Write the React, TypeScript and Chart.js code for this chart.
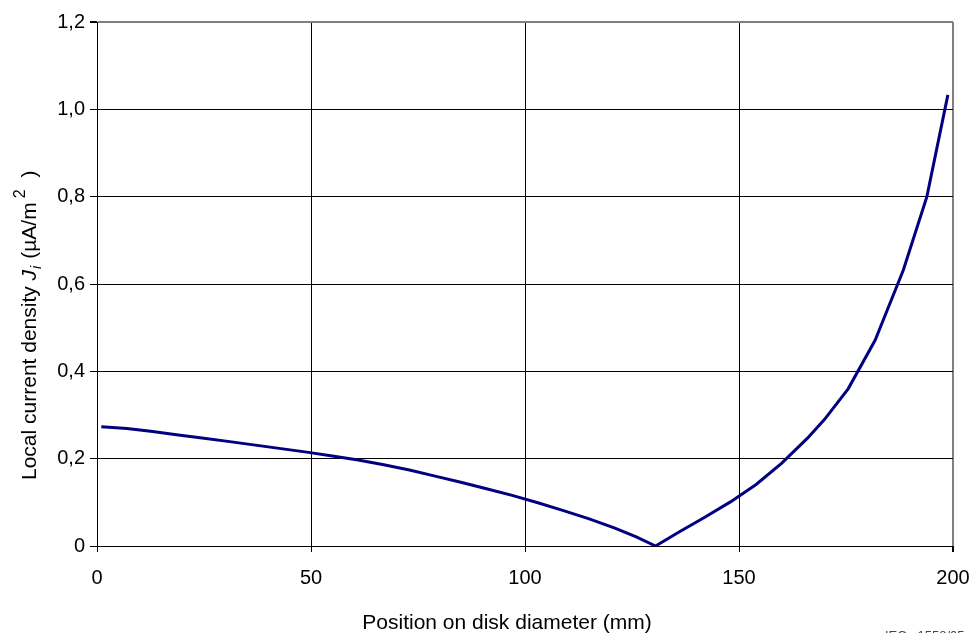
import React, { useEffect, useRef } from "react";
import { Chart, registerables } from "chart.js";

Chart.register(...registerables);

// Position on disk diameter (mm)
const positionMm = [
  1, 7, 13, 19, 25, 31, 37, 43, 49, 55, 61, 67, 73, 79, 85, 91, 97, 103, 109,
  115, 121, 126, 130.5, 136, 142, 148, 154, 160, 166, 170, 175.5, 181.8, 188.4,
  193.9, 198.8,
];
// Local current density J_i (µA/m²)
const currentDensity = [
  0.273, 0.269, 0.262, 0.254, 0.247, 0.239, 0.231, 0.223, 0.215, 0.206, 0.197,
  0.186, 0.174, 0.16, 0.146, 0.131, 0.116, 0.099, 0.081, 0.062, 0.041, 0.021,
  0, 0.032, 0.066, 0.101, 0.141, 0.19, 0.247, 0.29, 0.36, 0.471, 0.632, 0.8,
  1.033,
];
const xTicks = [0, 50, 100, 150, 200];
const yTicks = [0, 0.2, 0.4, 0.6, 0.8, 1.0, 1.2];

const xTitle = "Position on disk diameter (mm)";
const sourceNote = "IEC   1558/05";

const FONT = "'Liberation Sans', Arial, Helvetica, sans-serif";

const textPlugin = {
  id: "customText",
  afterDraw(chart: any) {
    const ctx = chart.ctx as CanvasRenderingContext2D;
    ctx.save();
    ctx.fillStyle = "#000";
    // X title
    ctx.font = `21px ${FONT}`;
    ctx.textAlign = "center";
    ctx.textBaseline = "alphabetic";
    ctx.fillText(xTitle, 507, 629);
    // Source note (partially cut off at bottom)
    ctx.textAlign = "left";
    ctx.textBaseline = "top";
    ctx.font = `13px ${FONT}`;
    ctx.fillStyle = "#444";
    ctx.fillText(sourceNote, 885, 630);
    ctx.restore();

    // Y title (rotated, with italic J, subscript i, superscript 2)
    ctx.save();
    ctx.fillStyle = "#000";
    ctx.translate(36, 480);
    ctx.rotate(-Math.PI / 2);
    ctx.textAlign = "left";
    ctx.textBaseline = "alphabetic";
    const parts: { t: string; font: string; dy: number; gap: number }[] = [
      { t: "Local current density ", font: `21px ${FONT}`, dy: 0, gap: 0 },
      { t: "J", font: `italic 21px ${FONT}`, dy: 0, gap: 1 },
      { t: "i", font: `italic 14px ${FONT}`, dy: 5, gap: 7 },
      { t: "(µA/m", font: `21px ${FONT}`, dy: 0, gap: 4 },
      { t: "2", font: `16px ${FONT}`, dy: -11, gap: 12 },
      { t: ")", font: `21px ${FONT}`, dy: 0, gap: 0 },
    ];
    let x = 0;
    for (const p of parts) {
      ctx.font = p.font;
      ctx.fillText(p.t, x, p.dy);
      x += ctx.measureText(p.t).width + p.gap;
    }
    ctx.restore();
  },
};

export default function App() {
  const ref = useRef<HTMLCanvasElement | null>(null);

  useEffect(() => {
    if (!ref.current) return;
    const points = positionMm.map((x, i) => ({ x, y: currentDensity[i] }));
    const chart = new Chart(ref.current, {
      type: "scatter",
      data: {
        datasets: [
          {
            data: points,
            showLine: true,
            borderColor: "#000080",
            borderWidth: 3,
            pointRadius: 0,
            tension: 0,
            fill: false,
          },
        ],
      },
      options: {
        animation: false,
        responsive: false,
        devicePixelRatio: 1,
        layout: { padding: { top: 22, right: 21, bottom: 0, left: 0 } },
        plugins: {
          legend: { display: false },
          tooltip: { enabled: false },
          title: { display: false },
        },
        scales: {
          x: {
            type: "linear",
            min: 0,
            max: 200,
            afterBuildTicks(scale: any) {
              scale.ticks = xTicks.map((v) => ({ value: v }));
            },
            afterFit(scale: any) {
              scale.height = 87;
              scale.paddingRight = 0;
              scale.paddingLeft = 0;
            },
            ticks: {
              font: { family: FONT, size: 20 },
              color: "#000",
              padding: 14,
              maxRotation: 0,
              callback: (v: any) => String(v),
            },
            grid: {
              color: (c: any) => (c.tick && c.tick.value === 200 ? "#808080" : "#000"),
              lineWidth: (c: any) => (c.tick && c.tick.value === 200 ? 2 : 1),
              tickColor: "#000",
              tickLength: 6,
              drawTicks: true,
            },
            border: { display: true, color: "#000", width: 1 },
          },
          y: {
            type: "linear",
            min: 0,
            max: 1.2,
            afterBuildTicks(scale: any) {
              scale.ticks = yTicks.map((v) => ({ value: v }));
            },
            afterFit(scale: any) {
              scale.width = 97;
              scale.paddingTop = 0;
              scale.paddingBottom = 0;
            },
            ticks: {
              font: { family: FONT, size: 20 },
              color: "#000",
              padding: 5,
              callback: (v: any) =>
                Number(v) === 0 ? "0" : Number(v).toFixed(1).replace(".", ","),
            },
            grid: {
              color: (c: any) =>
                c.tick && Math.abs(c.tick.value - 1.2) < 1e-6 ? "#808080" : "#000",
              lineWidth: (c: any) =>
                c.tick && Math.abs(c.tick.value - 1.2) < 1e-6 ? 2 : 1,
              tickColor: "#000",
              tickLength: 7,
              drawTicks: true,
            },
            border: { display: true, color: "#000", width: 1 },
          },
        },
      },
      plugins: [textPlugin],
    } as any);
    return () => chart.destroy();
  }, []);

  return (
    <div
      style={{
        position: "absolute",
        left: 0,
        top: 0,
        width: 974,
        height: 633,
        background: "#fff",
      }}
    >
      <canvas ref={ref} width={974} height={633} style={{ width: 974, height: 633 }} />
    </div>
  );
}
